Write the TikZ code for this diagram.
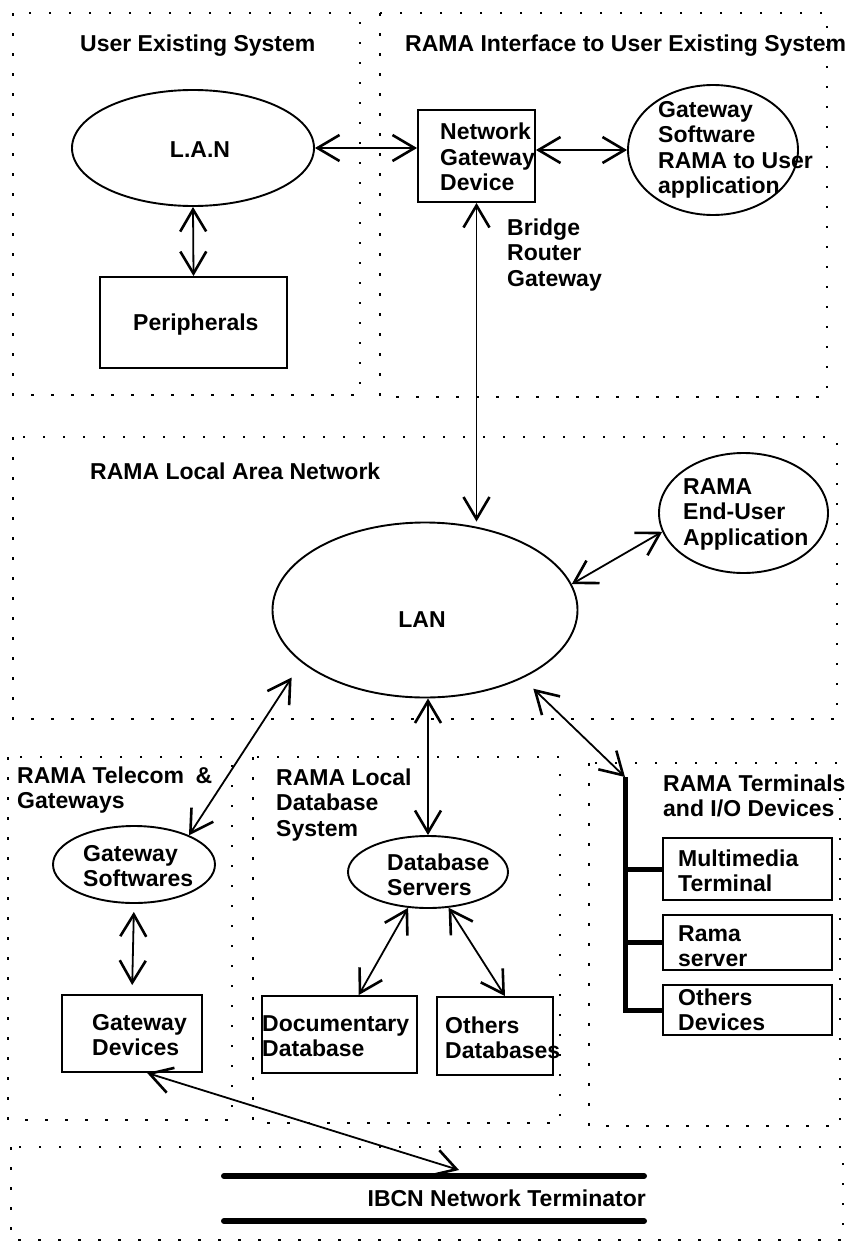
\documentclass[tikz,border=0pt]{standalone}
\usepackage{fontspec}
\setmainfont{Liberation Sans}
\usetikzlibrary{arrows.meta,shapes.geometric,calc}

\begin{document}
\begin{tikzpicture}[x=1pt,y=-1pt,
  txt/.style={font=\fontsize{23}{25.5}\selectfont\bfseries, inner sep=0pt, align=left, anchor=west},
  region/.style={line width=2.5pt, dash pattern=on 2.5pt off 17.5pt},
  oval/.style={ellipse, draw, line width=1.9pt, inner sep=0pt},
  box/.style={rectangle, draw, line width=1.9pt, inner sep=0pt},
  barb/.tip={Straight Barb[length=22pt,width=26pt,line width=2.6pt]},
  link/.style={line width=1.8pt, barb-barb},
  bus/.style={line width=5pt},
  rail/.style={line width=6pt, line cap=round}]

\useasboundingbox (0,0) rectangle (856,1242);

% dotted region outlines
\draw[region] (13,13) rectangle (360,395);
\draw[region] (380,13) rectangle (827,397);
\draw[region] (13,437) rectangle (837,719);
\draw[region] (8,757) rectangle (232,1120);
\draw[region] (253,757) rectangle (560,1123);
\draw[region] (589,763) rectangle (840,1126);
\draw[region] (11,1147) rectangle (843,1240);

% user existing system
\node[oval, minimum width=242pt, minimum height=116pt] (lan1) at (193,148) {};
\node[box, minimum width=187pt, minimum height=91pt] (per) at (193.5,322.5) {};

% interface
\node[box, minimum width=117pt, minimum height=92pt] (ngd) at (476.5,156) {};
\node[oval, minimum width=170pt, minimum height=130pt] (gsu) at (713,150) {};

% local area network
\node[oval, minimum width=305pt, minimum height=175pt] (lan) at (425,610) {};
\node[oval, minimum width=169pt, minimum height=120pt] (eua) at (743.5,513) {};

% telecom & gateways
\node[oval, minimum width=162pt, minimum height=77pt] (gsw) at (134,864.5) {};
\node[box, minimum width=140pt, minimum height=77pt] (gdv) at (132,1033.5) {};

% local database system
\node[oval, minimum width=160pt, minimum height=72pt] (dbs) at (428,872) {};
\node[box, minimum width=155pt, minimum height=77pt] (doc) at (339.5,1034.5) {};
\node[box, minimum width=116pt, minimum height=78pt] (odb) at (495,1036) {};

% terminals and I/O devices
\node[box, minimum width=169pt, minimum height=62pt] (mmt) at (747.5,869) {};
\node[box, minimum width=169pt, minimum height=55pt] (rsv) at (747.5,942.5) {};
\node[box, minimum width=169pt, minimum height=50pt] (odv) at (747.5,1010) {};
\coordinate (bartop) at (625,777);
\draw[bus] (bartop) -- (bartop |- odv.west) -- (odv.west);
\draw[bus] (bartop |- mmt.west) -- (mmt.west);
\draw[bus] (bartop |- rsv.west) -- (rsv.west);

% IBCN network terminator
\draw[rail] (224,1176) -- (644,1176);
\draw[rail] (224,1221) -- (644,1221);
\coordinate (ibcnin) at (459,1170);

% connectors
\draw[link] (lan1.east) -- (lan1.east -| ngd.west);
\draw[link] (gsu.west -| ngd.east) -- (gsu.west);
\draw[link] (lan1.south) -- (per.north);
\draw[link] (ngd.south) -- (ngd.south |- lan.north);
\draw[link] (lan.10) -- (eua.193);
\draw[link, shorten >=18pt] (gsw.28) -- (lan.203);
\draw[link] (dbs.north) -- (dbs.north |- lan.south);
\draw[link, shorten <=15pt] (lan.325) -- (bartop);
\draw[link, shorten <=8pt, shorten >=9pt] (gsw.south) -- (gdv.north);
\draw[link] (dbs.241) -- (doc.64);
\draw[link] (dbs.300) -- (odb.76);
\draw[link] (gdv.291) -- (ibcnin);

% labels
\node[txt] (t1) at (80,46) {User Existing System};
\node[txt] (t2) at (405,46) {RAMA Interface to User Existing System};
\node[txt, anchor=center] (lan1t) at (200,150) {L.A.N};
\node[txt] (pert) at (133,325) {Peripherals};
\node[txt] (ngdt) at (440,157) {Network\\Gateway\\Device};
\node[txt] (gsut) at (658,150) {Gateway\\Software\\RAMA to User\\application};
\node[txt] (brg) at (507,255) {Bridge\\Router\\Gateway};
\node[txt] (t3) at (90,471) {RAMA Local Area Network};
\node[txt, anchor=center] (lant) at (422,620) {LAN};
\node[txt] (euat) at (683,514) {RAMA\\End-User\\Application};
\node[txt] (t4) at (17,790) {RAMA Telecom\hspace{5pt} \&\\Gateways};
\node[txt] (t5) at (276,805) {RAMA Local\\Database\\System};
\node[txt] (t6) at (663,796) {RAMA Terminals\\and I/O Devices};
\node[txt] (gswt) at (83,866) {Gateway\\Softwares};
\node[txt] (dbst) at (387,875) {Database\\Servers};
\node[txt] (gdvt) at (92,1035) {Gateway\\Devices};
\node[txt] (doct) at (262,1036) {Documentary\\Database};
\node[txt] (odbt) at (445,1038) {Others\\Databases};
\node[txt] (mmtt) at (678,871) {Multimedia\\Terminal};
\node[txt] (rsvt) at (678,946) {Rama\\server};
\node[txt] (odvt) at (678,1010) {Others\\Devices};
\node[txt, anchor=east] (ibcnt) at (646,1198) {IBCN Network Terminator};
\end{tikzpicture}
\end{document}
